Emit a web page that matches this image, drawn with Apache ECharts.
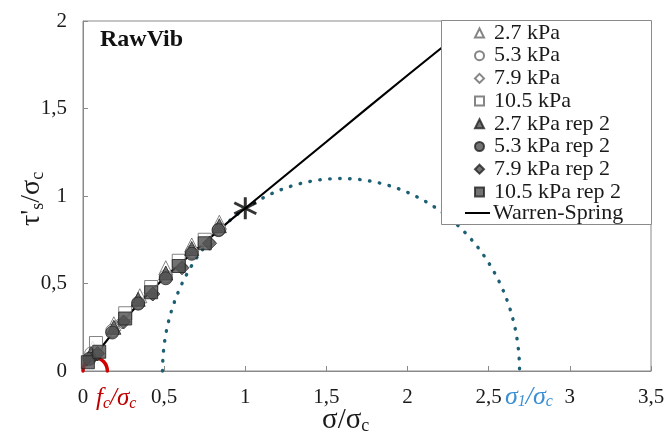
<!DOCTYPE html>
<html>
<head>
<meta charset="utf-8">
<script src="https://cdn.jsdelivr.net/npm/echarts@6/dist/echarts.min.js"></script>
<style>html,body{margin:0;padding:0;background:#fff}#c{width:668px;height:434px}</style>
</head>
<body>
<div id="c"></div>
<script>
// ---- axis ranges / ticks ----
const xRange = [0, 3.5];
const yRange = [0, 2];
const tickStep = 0.5;

// ---- series data [sigma/sigma_c, tau/sigma_c] ----
const p27  = [[0.06,0.13],[0.19,0.27],[0.35,0.43],[0.51,0.59],[0.67,0.72],[0.84,0.85]];
const p53  = [[0.05,0.10],[0.18,0.23],[0.34,0.39],[0.51,0.54],[0.67,0.68],[0.84,0.81]];
const p79  = [[0.08,0.11],[0.24,0.28],[0.42,0.45],[0.60,0.60],[0.77,0.74]];
const p105 = [[0.08,0.16],[0.26,0.33],[0.42,0.48],[0.59,0.63],[0.75,0.75]];
const p27r  = [[0.05,0.10],[0.19,0.25],[0.34,0.41],[0.51,0.56],[0.67,0.70],[0.84,0.83]];
const p53r  = [[0.04,0.07],[0.18,0.22],[0.34,0.385],[0.51,0.53],[0.67,0.67],[0.835,0.805]];
const p79r  = [[0.09,0.10],[0.25,0.28],[0.43,0.44],[0.61,0.59],[0.78,0.73]];
const p105r = [[0.03,0.05],[0.10,0.11],[0.26,0.30],[0.42,0.45],[0.59,0.60],[0.75,0.73]];

const wsX = [0.02,0.1,0.2,0.3,0.4,0.5,0.6,0.7,0.8,0.9,1.0,1.5,2.0,2.35];
const wsY = [0.03,0.12,0.235,0.34,0.44,0.53,0.615,0.695,0.775,0.855,0.93,1.31,1.69,1.95];

const starPoint = [[1.0, 0.93]];
const mohrCircle = [[1.59, 1.10]];   // [centre, radius]
const fcCircle = [[0.075, 0.075]];   // [centre, radius]

const markerNames = ['2.7 kPa','5.3 kPa','7.9 kPa','10.5 kPa','2.7 kPa rep 2','5.3 kPa rep 2','7.9 kPa rep 2','10.5 kPa rep 2'];
const lineName = 'Warren-Spring';

const FONT = 'Liberation Serif';
const openStyle = {color:'#ffffff', borderColor:'#666666', borderWidth:1};
const fillStyle = {color:'#505050', borderColor:'#222222', borderWidth:1};

function scat(name, data, symbol, size, style){
  return {name, type:'scatter', data, symbol, symbolSize:size, itemStyle:style, z:3};
}

function arcSeries(data, color, width, dash){
  return {
    type:'custom', data, z:2, silent:true,
    renderItem(params, api){
      const c = api.value(0), r = api.value(1);
      const p1 = api.coord([c - r, 0]);
      const p2 = api.coord([c + r, 0]);
      const sz = api.size([r, r]);
      const d = 'M' + p1[0] + ' ' + p1[1] + ' A ' + sz[0] + ' ' + sz[1] + ' 0 0 1 ' + p2[0] + ' ' + p2[1];
      return {type:'path', shape:{pathData:d}, style:{fill:null, stroke:color, lineWidth:width, lineDash:dash, lineCap:'round'}};
    }
  };
}

const chart = echarts.init(document.getElementById('c'), null, {renderer:'canvas'});
const fmt = v => String(v).replace('.', ',');
const axisCommon = {
  interval: tickStep,
  axisLine:{show:true, lineStyle:{color:'#8a8a8a', width:1}},
  axisTick:{show:true, inside:true, length:5, lineStyle:{color:'#8a8a8a'}},
  splitLine:{show:false},
  axisLabel:{formatter:fmt, color:'#1a1a1a', fontFamily:FONT, fontSize:21, margin:16}
};
const legendText = {fontFamily:FONT, fontSize:22, color:'#1a1a1a'};

chart.setOption({
  animation:false,
  backgroundColor:'#ffffff',
  grid:{left:83, right:17, top:21, bottom:63, show:true, borderColor:'#8a8a8a', borderWidth:1, containLabel:false},
  xAxis:Object.assign({type:'value', min:xRange[0], max:xRange[1]}, axisCommon),
  yAxis:Object.assign({type:'value', min:yRange[0], max:yRange[1]}, axisCommon),
  legend:[{
    orient:'vertical', left:474, top:22, z:10, padding:0,
    itemWidth:9, itemHeight:9, itemGap:0.7,
    data:markerNames,
    textStyle:Object.assign({padding:[0,0,0,5]}, legendText)
  },{
    orient:'vertical', left:465, top:202, z:10, padding:0,
    itemWidth:25, itemHeight:22, itemGap:0,
    data:[{name:lineName, icon:'path://M0,10L25,10L25,12L0,12Z'}],
    itemStyle:{color:'#000'},
    textStyle:Object.assign({padding:[0,0,0,-2]}, legendText)
  }],
  graphic:[
    {type:'rect', z:8, shape:{x:441.5, y:20.5, width:210, height:204}, style:{fill:'#ffffff', stroke:'#8a8a8a', lineWidth:1}},
    {type:'text', left:100, top:28, style:{text:'RawVib', fontFamily:FONT, fontWeight:'bold', fontSize:24, fill:'#111'}},
    {type:'text', left:96, top:386, style:{
      text:'{i|f}{s|c}{i|/σ}{s|c}',
      rich:{i:{fontFamily:FONT, fontStyle:'italic', fontSize:25, fill:'#c00000', lineHeight:26},
            s:{fontFamily:FONT, fontStyle:'italic', fontSize:16, fill:'#c00000', lineHeight:16, verticalAlign:'bottom'}}}},
    {type:'text', left:505, top:384, style:{
      text:'{i|σ}{s|1}{i|/σ}{s|c}',
      rich:{i:{fontFamily:FONT, fontStyle:'italic', fontSize:26, fill:'#3a8fd4', lineHeight:26},
            s:{fontFamily:FONT, fontStyle:'italic', fontSize:16, fill:'#3a8fd4', lineHeight:16, verticalAlign:'bottom'}}}},
    {type:'text', left:322, top:406, style:{
      text:'{n|σ/σ}{s|c}',
      rich:{n:{fontFamily:FONT, fontSize:29, fill:'#1a1a1a', lineHeight:30},
            s:{fontFamily:FONT, fontSize:18, fill:'#1a1a1a', lineHeight:18, verticalAlign:'bottom'}}}},
    {type:'text', x:17, y:226, rotation:Math.PI/2, style:{
      text:'{n|τ\'}{s|s}{n|/σ}{s|c}',
      rich:{n:{fontFamily:FONT, fontSize:28, fill:'#1a1a1a', lineHeight:30},
            s:{fontFamily:FONT, fontSize:18, fill:'#1a1a1a', lineHeight:18, verticalAlign:'bottom'}}}}
  ],
  series:[
    arcSeries(mohrCircle, '#1d5f74', 3.4, [0.5, 9.5]),
    arcSeries(fcCircle, '#d00000', 3.5, null),
    {name:lineName, type:'line', data:wsX.map((x,i)=>[x, wsY[i]]), symbol:'none', smooth:true,
     lineStyle:{color:'#000', width:2.2}, itemStyle:{color:'#000'}, z:3},
    scat('2.7 kPa', p27, 'triangle', 14, openStyle),
    scat('5.3 kPa', p53, 'circle', 13, openStyle),
    scat('7.9 kPa', p79, 'diamond', 14, openStyle),
    scat('10.5 kPa', p105, 'rect', 13, openStyle),
    scat('2.7 kPa rep 2', p27r, 'triangle', 14, fillStyle),
    scat('5.3 kPa rep 2', p53r, 'circle', 13, fillStyle),
    scat('7.9 kPa rep 2', p79r, 'diamond', 14, fillStyle),
    scat('10.5 kPa rep 2', p105r, 'rect', 13, fillStyle),
    {type:'scatter', data:starPoint, z:4, symbol:'path://M10,0L10,20M1,5L19,15M1,15L19,5', symbolSize:[22,22],
     itemStyle:{color:'rgba(0,0,0,0)', borderColor:'#000', borderWidth:3}}
  ]
});
</script>
</body>
</html>
